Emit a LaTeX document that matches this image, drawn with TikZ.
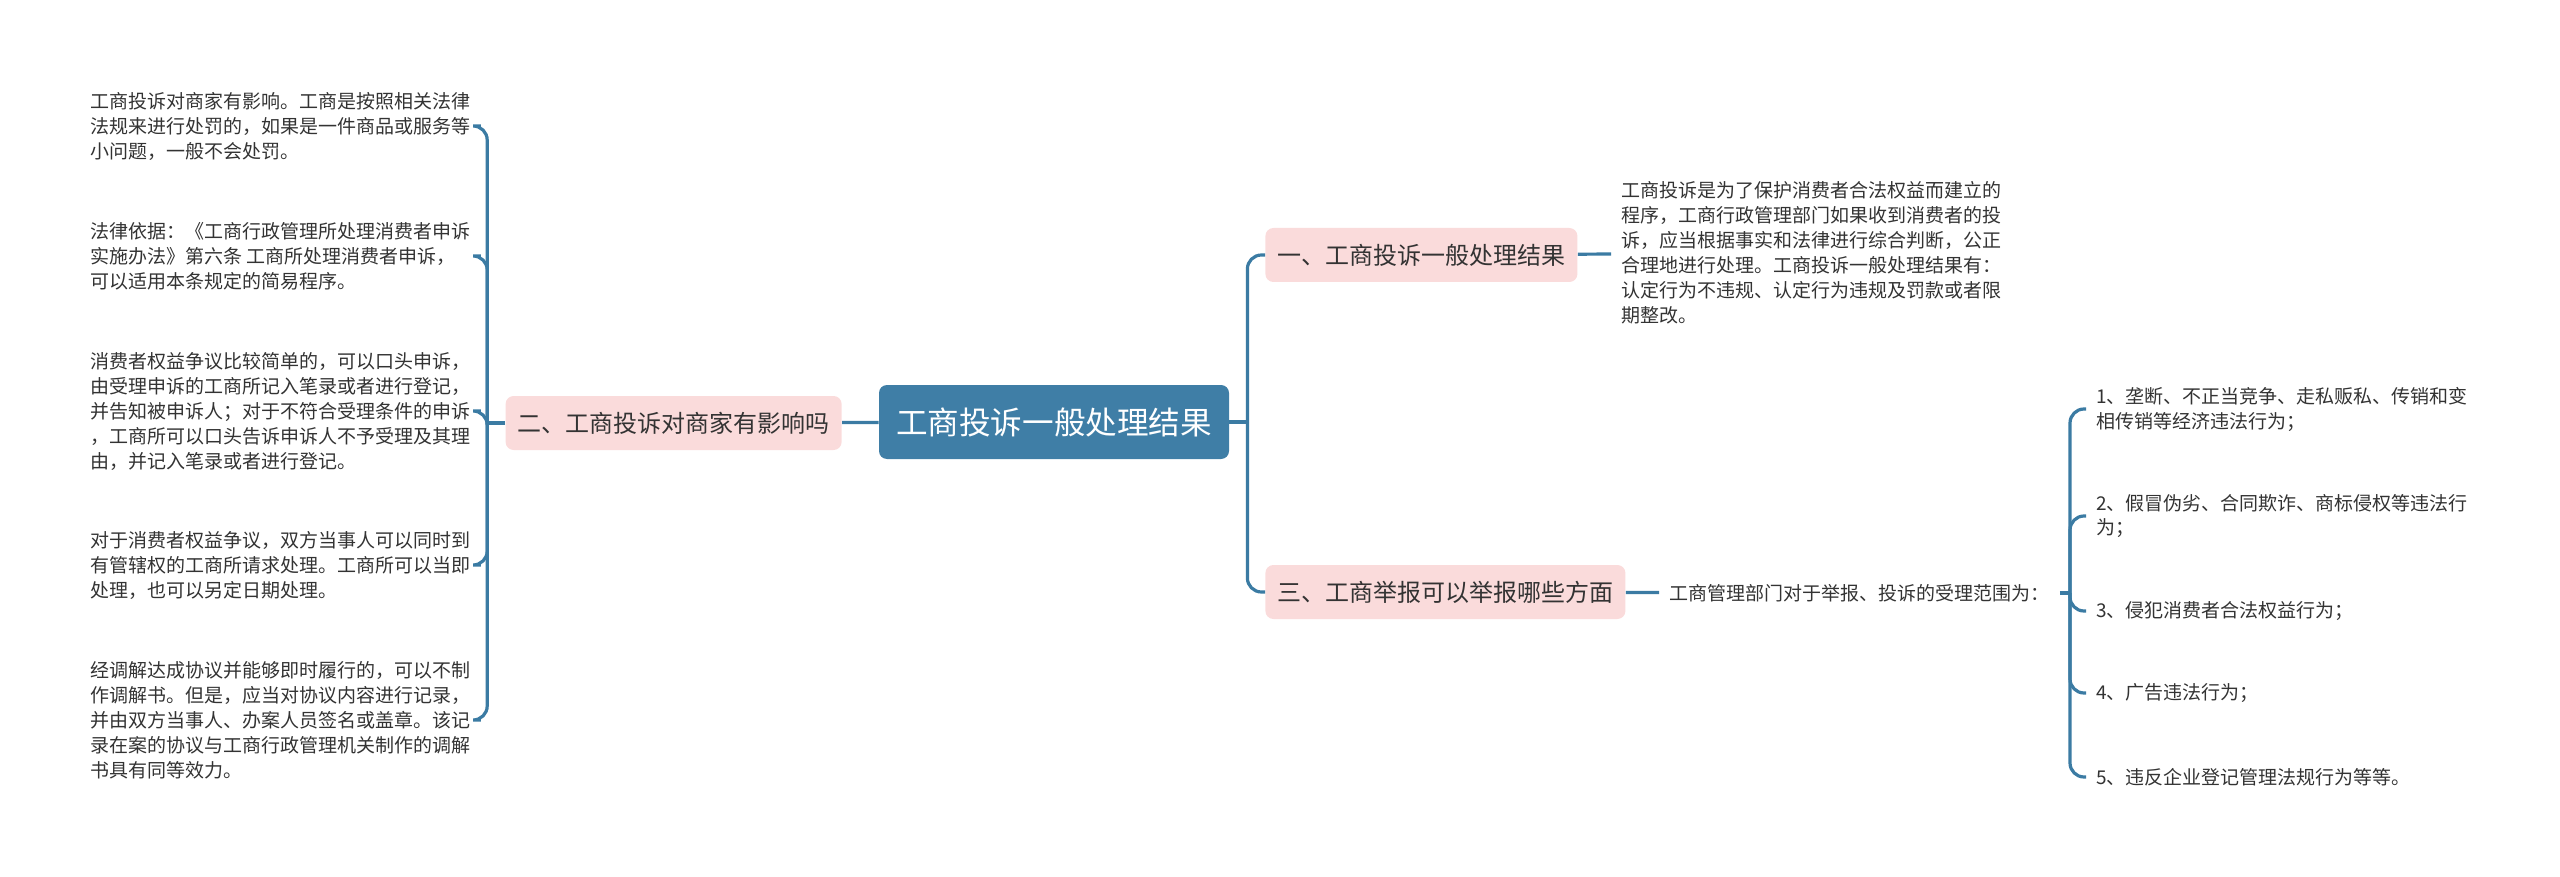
\documentclass[tikz,border=0pt]{standalone}
\usepackage{fontspec}
\setmainfont{Noto Sans CJK SC}
\usetikzlibrary{positioning}
\definecolor{rootblue}{HTML}{3F7EA6}
\definecolor{linkblue}{HTML}{3B7BA3}
\definecolor{topicpink}{HTML}{FADBDB}
\definecolor{textgray}{HTML}{333333}

\begin{document}
\begin{tikzpicture}[x=0.5pt,y=-0.5pt]
\tikzstyle{every node}=[font=\fontsize{9.5pt}{12.5pt}\selectfont, text=textgray]
\tikzstyle{root}=[fill=rootblue, rounded corners=4pt, text=white, font=\fontsize{15.8pt}{18pt}\selectfont, inner xsep=8.5pt, minimum height=37pt]
\tikzstyle{topic}=[fill=topicpink, rounded corners=4pt, font=\fontsize{12pt}{14pt}\selectfont, inner xsep=6pt, minimum height=27pt]
\tikzstyle{leaf}=[align=left, inner xsep=5pt, inner ysep=1pt]
\tikzstyle{link}=[draw=linkblue, line width=1.6pt, rounded corners=7pt]

\useasboundingbox (0,0) rectangle (2560,877);

\node[root] (root) at (1054,422) {工商投诉一般处理结果};
\node[topic, anchor=east] (t2) at (842,423) {二、工商投诉对商家有影响吗};
\node[topic, anchor=west] (t1) at (1265,255) {一、工商投诉一般处理结果};
\node[topic, anchor=west] (t3) at (1265,592) {三、工商举报可以举报哪些方面};

\node[leaf, anchor=west] (l1) at (80,126) {工商投诉对商家有影响。工商是按照相关法律\\法规来进行处罚的，如果是一件商品或服务等\\小问题，一般不会处罚。};
\node[leaf, anchor=west] (l2) at (80,256) {法律依据：《工商行政管理所处理消费者申诉\\实施办法》第六条 工商所处理消费者申诉，\\可以适用本条规定的简易程序。};
\node[leaf, anchor=west] (l3) at (80,411) {消费者权益争议比较简单的，可以口头申诉，\\由受理申诉的工商所记入笔录或者进行登记，\\并告知被申诉人；对于不符合受理条件的申诉\\，工商所可以口头告诉申诉人不予受理及其理\\由，并记入笔录或者进行登记。};
\node[leaf, anchor=west] (l4) at (80,565) {对于消费者权益争议，双方当事人可以同时到\\有管辖权的工商所请求处理。工商所可以当即\\处理，也可以另定日期处理。};
\node[leaf, anchor=west] (l5) at (80,720) {经调解达成协议并能够即时履行的，可以不制\\作调解书。但是，应当对协议内容进行记录，\\并由双方当事人、办案人员签名或盖章。该记\\录在案的协议与工商行政管理机关制作的调解\\书具有同等效力。};

\node[leaf, anchor=west] (r1) at (1611,253) {工商投诉是为了保护消费者合法权益而建立的\\程序，工商行政管理部门如果收到消费者的投\\诉，应当根据事实和法律进行综合判断，公正\\合理地进行处理。工商投诉一般处理结果有：\\认定行为不违规、认定行为违规及罚款或者限\\期整改。};
\node[leaf, anchor=west] (scope) at (1659,593) {工商管理部门对于举报、投诉的受理范围为：};

\node[leaf, anchor=west] (i1) at (2086,409) {1、垄断、不正当竞争、走私贩私、传销和变\\相传销等经济违法行为；};
\node[leaf, anchor=west] (i2) at (2086,516) {2、假冒伪劣、合同欺诈、商标侵权等违法行\\为；};
\node[leaf, anchor=west] (i3) at (2086,611) {3、侵犯消费者合法权益行为；};
\node[leaf, anchor=west] (i4) at (2086,693) {4、广告违法行为；};
\node[leaf, anchor=west] (i5) at (2086,777) {5、违反企业登记管理法规行为等等。};
\coordinate (sj) at (2070,593);

\draw[link] (root) -- (t2);
\draw[link] (root.east) -- ++(18,0) coordinate (rj);
\draw[link] (rj) |- (t1.west);
\draw[link] (rj) |- (t3.west);
\draw[link] (t2.west) -- ++(-18,0) coordinate (lj);
\foreach \n in {l1,l2,l3,l4,l5} \draw[link] (lj) |- (\n.east);
\draw[link] (t1) -- (r1);
\draw[link] (t3) -- (scope);
\draw[link] (scope.east) -- (sj);
\foreach \n in {i1,i2,i3,i4,i5} \draw[link] (sj) |- (\n.west);
\end{tikzpicture}
\end{document}
